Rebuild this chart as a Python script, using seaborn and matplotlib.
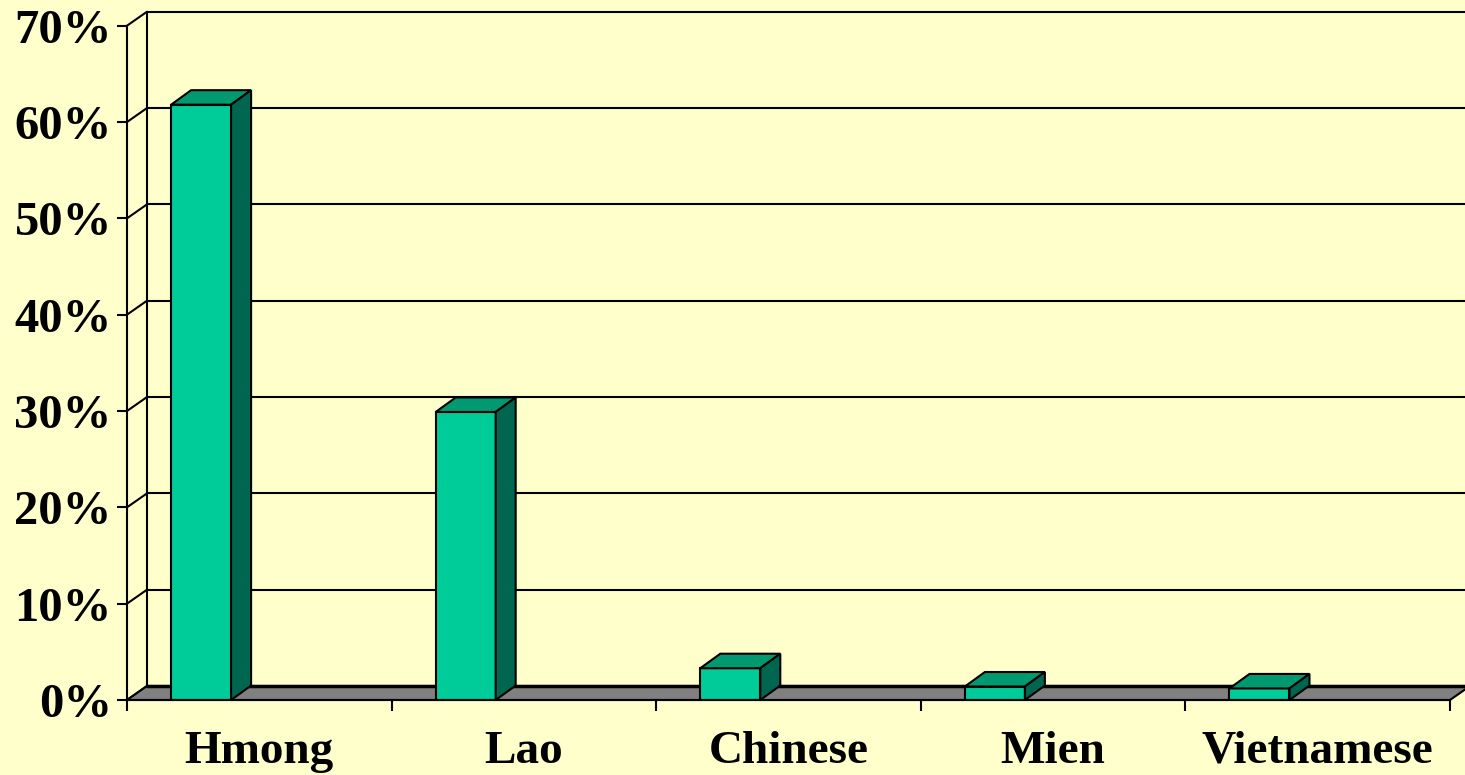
import numpy as np
import pandas as pd
import matplotlib
matplotlib.use("Agg")
import matplotlib.pyplot as plt
from matplotlib.patches import Polygon
from matplotlib.ticker import FixedLocator, PercentFormatter
import seaborn as sns

# data
groups = ["Hmong", "Lao", "Chinese", "Mien", "Vietnamese"]
shares = [0.618, 0.299, 0.033, 0.014, 0.012]
y_ticks = [0.0, 0.1, 0.2, 0.3, 0.4, 0.5, 0.6, 0.7]

df = pd.DataFrame({"group": groups, "share": shares})

# colours
bg = "#FFFFCC"
front_c = "#00CC99"
top_c = "#009970"
side_c = "#006650"
floor_c = "#808080"

sns.set_style("white")
plt.rcParams["font.family"] = ["Liberation Serif", "DejaVu Serif"]
plt.rcParams["font.weight"] = "bold"
plt.rcParams["text.color"] = "black"
plt.rcParams["xtick.color"] = "black"
plt.rcParams["ytick.color"] = "black"
plt.rcParams["axes.edgecolor"] = "black"

W, H = 1465, 775
fig = plt.figure(figsize=(W / 100, H / 100), dpi=100, facecolor=bg)
# front axis frame in pixels: x 127..1450, y 700 (0%) .. 25.7 (70%)
ax = fig.add_axes([127 / W, (H - 700) / H, (1450 - 127) / W, (700 - 25.7) / H])
ax.set_facecolor("none")

bar_w = 60 / 264.6
sns.barplot(data=df, x="group", y="share", order=groups, color=front_c,
            width=bar_w, saturation=1, edgecolor="black", linewidth=1.5,
            ax=ax, zorder=5)
ax.set_xlim(-0.5, 4.5)
ax.set_ylim(0, 0.7)

# depth offsets (data units)
px_x = 5 / (1450 - 127)
px_y = 0.7 / (700 - 25.7)
dx = 20 * px_x
dyw = 14 * px_y
dyb = 14.5 * px_y
shift = -0.22

# walls and floor
lw = 1.5
ax.plot([-0.5 + dx, -0.5 + dx], [dyw, 0.7 + dyw], color="black", lw=lw, clip_on=False, zorder=1)
for t in y_ticks:
    ax.plot([-0.5, -0.5 + dx], [t, t + dyw], color="black", lw=lw, clip_on=False, zorder=1)
    if t > 0:
        ax.plot([-0.5 + dx, 4.5 + dx], [t + dyw, t + dyw], color="black", lw=lw,
                clip_on=False, zorder=1)
floor = Polygon([(-0.5, 0), (4.5, 0), (4.5 + dx, dyw), (-0.5 + dx, dyw)],
                closed=True, facecolor=floor_c, edgecolor="black", lw=1.5,
                clip_on=False, zorder=2)
ax.add_patch(floor)
ax.plot([-0.5 + dx, 4.5 + dx], [dyw, dyw], color="black", lw=2.5, clip_on=False, zorder=2)

# 3d sides and tops from the seaborn bars
for p in ax.patches[:]:
    if p is floor:
        continue
    p.set_x(p.get_x() + shift)
    x0 = p.get_x()
    x1 = x0 + p.get_width()
    h = p.get_height()
    top = Polygon([(x0, h), (x1, h), (x1 + dx, h + dyb), (x0 + dx, h + dyb)],
                  closed=True, facecolor=top_c, edgecolor="black", lw=1.5,
                  clip_on=False, zorder=5)
    side = Polygon([(x1, 0), (x1 + dx, dyb), (x1 + dx, h + dyb), (x1, h)],
                   closed=True, facecolor=side_c, edgecolor="black", lw=1.5,
                   clip_on=False, zorder=5)
    ax.add_patch(top)
    ax.add_patch(side)

# axes
sns.despine(ax=ax, top=True, right=True)
ax.spines["left"].set_linewidth(lw)
ax.spines["bottom"].set_linewidth(lw)
ax.spines["left"].set_zorder(6)
ax.spines["bottom"].set_zorder(6)

ax.yaxis.set_major_locator(FixedLocator(y_ticks))
ax.yaxis.set_major_formatter(PercentFormatter(1.0, decimals=0))
ax.tick_params(axis="y", direction="out", length=7, width=lw, pad=4,
               labelsize=35, left=True, colors="black")

ax.xaxis.set_major_locator(FixedLocator(np.arange(-0.5, 5, 1.0)))
ax.xaxis.set_minor_locator(FixedLocator(np.arange(0, 5, 1.0)))
ax.set_xticklabels([], minor=False)
ax.set_xticklabels(groups, minor=True)
ax.tick_params(axis="x", which="major", direction="out", length=8, width=lw,
               bottom=True, colors="black")
ax.tick_params(axis="x", which="minor", length=0, pad=22, labelsize=34, colors="black")
for lab in ax.get_xticklabels(minor=True) + ax.get_yticklabels():
    lab.set_fontweight("bold")
    lab.set_color("black")

ax.set_xlabel("")
ax.set_ylabel("")

fig.savefig("out.png", dpi=100, facecolor=bg)
